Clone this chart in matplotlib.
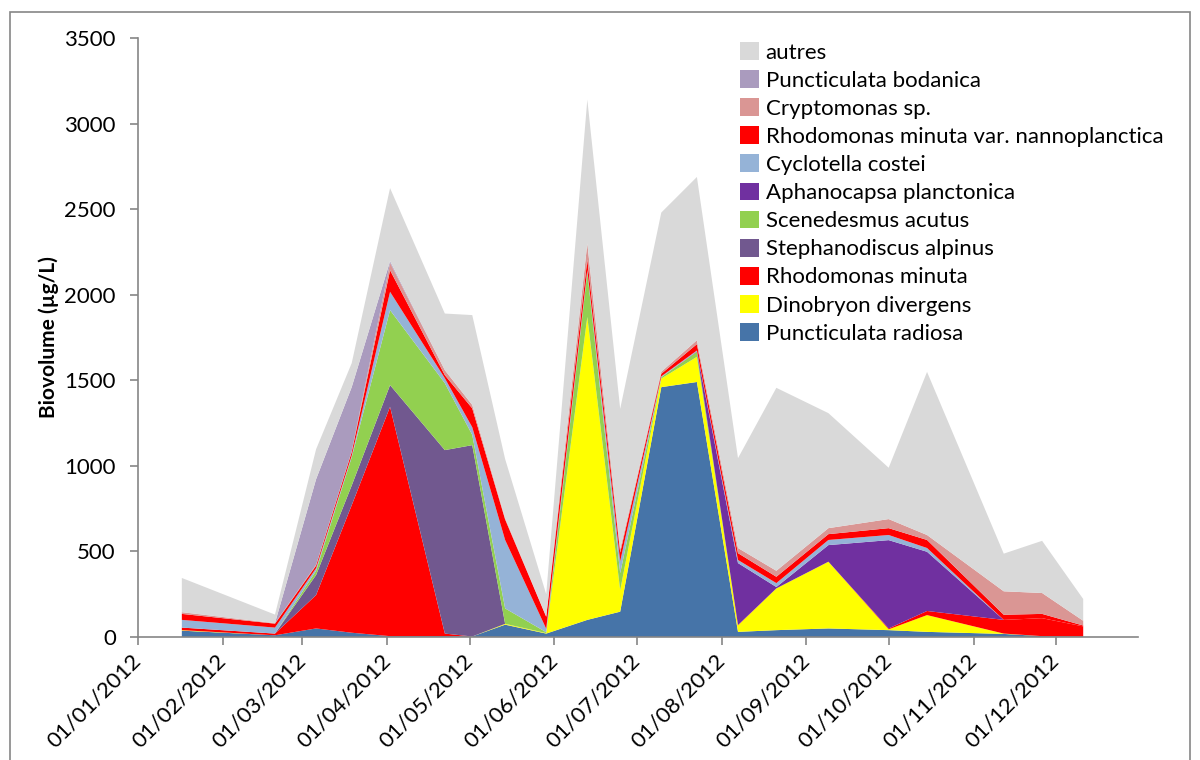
import numpy as np
import pandas as pd
import matplotlib
matplotlib.use("Agg")
import matplotlib.pyplot as plt
import matplotlib.dates as mdates
from matplotlib.patches import Patch, Rectangle

plt.rcParams['font.family'] = ['Lato', 'DejaVu Sans']

# sampling dates
dates = ["2012-01-17", "2012-02-20", "2012-03-06", "2012-03-19", "2012-04-02",
         "2012-04-22", "2012-05-02", "2012-05-14", "2012-05-29", "2012-06-13",
         "2012-06-25", "2012-07-10", "2012-07-23", "2012-08-07", "2012-08-21",
         "2012-09-09", "2012-10-01", "2012-10-15", "2012-11-12", "2012-11-26",
         "2012-12-11"]

# biovolume per taxon (ug/L), bottom of the stack first
p_radiosa = [37, 10, 50, 25, 5, 5, 3, 72, 20, 100, 148, 1460, 1490, 30, 40, 50, 40, 30, 18, 5, 2]
dinobryon = [3, 0, 0, 0, 0, 0, 0, 5, 3, 1770, 125, 50, 147, 38, 244, 390, 5, 98, 2, 0, 0]
rho_minuta = [15, 10, 195, 745, 1340, 15, 0, 0, 0, 0, 0, 0, 0, 2, 0, 0, 5, 24, 80, 105, 60]
stephano = [0, 0, 117, 115, 127, 1072, 1118, 0, 0, 0, 0, 0, 0, 0, 0, 0, 0, 0, 0, 0, 0]
scenedesmus = [0, 0, 25, 165, 438, 391, 60, 90, 5, 260, 100, 8, 29, 0, 0, 0, 0, 0, 0, 0, 0]
aphanocapsa = [0, 0, 0, 0, 0, 0, 0, 0, 0, 0, 0, 0, 3, 362, 8, 97, 516, 346, 0, 0, 0]
cyclotella = [45, 35, 15, 10, 107, 29, 45, 400, 20, 15, 70, 5, 5, 18, 23, 30, 30, 22, 0, 0, 0]
rho_nanno = [35, 23, 15, 20, 126, 18, 110, 120, 70, 60, 50, 15, 37, 40, 37, 34, 40, 47, 30, 25, 5]
cryptomonas = [10, 3, 5, 5, 43, 29, 20, 8, 2, 95, 20, 12, 23, 30, 35, 35, 53, 29, 137, 122, 28]
p_bodanica = [0, 0, 500, 375, 10, 0, 0, 0, 0, 0, 0, 0, 0, 0, 0, 0, 0, 0, 0, 0, 0]
autres = [200, 50, 175, 140, 427, 331, 525, 345, 130, 840, 820, 930, 954, 525, 1069, 672, 300, 953, 220, 305, 127]

labels = ["Puncticulata radiosa", "Dinobryon divergens", "Rhodomonas minuta",
          "Stephanodiscus alpinus", "Scenedesmus acutus", "Aphanocapsa planctonica",
          "Cyclotella costei", "Rhodomonas minuta var. nannoplanctica",
          "Cryptomonas sp.", "Puncticulata bodanica", "autres"]
colors = ["#4674A8", "#FFFF00", "#FF0000", "#71588F", "#92D050", "#7030A0",
          "#95B3D7", "#FF0000", "#DA9694", "#AA9BBE", "#D9D9D9"]

x = pd.to_datetime(dates)
series = [p_radiosa, dinobryon, rho_minuta, stephano, scenedesmus, aphanocapsa,
          cyclotella, rho_nanno, cryptomonas, p_bodanica, autres]

fig = plt.figure(figsize=(12, 7.6), dpi=100)
ax = fig.add_axes([138 / 1200, 1 - 637 / 760, 1000 / 1200, 599 / 760])

ax.stackplot(x, *series, colors=colors, linewidth=0)

ax.set_xlim(pd.Timestamp("2012-01-01"), pd.Timestamp("2012-12-31"))
ax.set_ylim(0, 3500)
ax.set_yticks(np.arange(0, 3501, 500))
ax.xaxis.set_major_locator(mdates.MonthLocator())
ax.xaxis.set_major_formatter(mdates.DateFormatter("%d/%m/%Y"))

for s in ["top", "right"]:
    ax.spines[s].set_visible(False)
for s in ["left", "bottom"]:
    ax.spines[s].set_color("#868686")
    ax.spines[s].set_linewidth(1.2)
ax.tick_params(axis="both", colors="#868686", length=6, width=1.2, labelcolor="black",
               labelsize=16)
ax.tick_params(axis="y", pad=10)
ax.tick_params(axis="x", pad=9)
for lab in ax.get_xticklabels():
    lab.set_rotation(45)
    lab.set_ha("right")
    lab.set_va("center")
    lab.set_rotation_mode("anchor")

ax.set_ylabel("Biovolume (µg/L)", fontsize=15, fontweight="bold", labelpad=4)

handles = [Patch(facecolor=c, edgecolor="none") for c in colors]
fig.legend(handles[::-1], labels[::-1], loc="upper left",
           bbox_to_anchor=(740 / 1200, 1 - 42 / 760), frameon=False,
           fontsize=16, handlelength=0.85, handleheight=0.85, handletextpad=0.3,
           labelspacing=0.34, borderpad=0, borderaxespad=0)

# chart area border
fig.patches.append(Rectangle((10 / 1200, -0.05), 1180 / 1200, 1.05 - 12 / 760,
                             transform=fig.transFigure, fill=False,
                             edgecolor="#868686", linewidth=1.2))

fig.savefig("out.png", dpi=100)
